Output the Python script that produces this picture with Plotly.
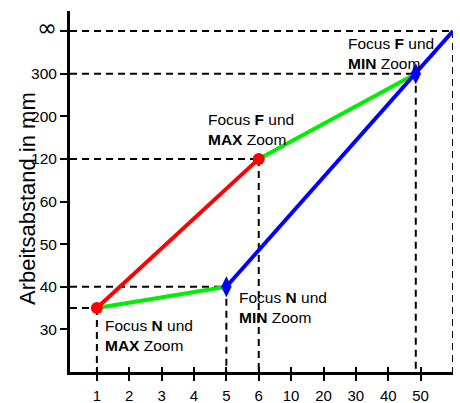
import plotly.graph_objects as go

# Axis categories (placed at equally spaced positions)
x_tick_pos = [1, 2, 3, 4, 5, 6, 7, 8, 9, 10, 11]
x_tick_text = ["1", "2", "3", "4", "5", "6", "10", "20", "30", "40", "50"]
y_tick_pos = [1, 2, 3, 4, 5, 6, 7, 8]
y_tick_text = ["30", "40", "50", "60", "120", "200", "300",
               "<span style='font-family:DejaVu Sans;font-size:24px'>∞</span>"]

# Series (positions on the category scales)
red_x = [1, 6]
red_y = [1.5, 5]
green1_x = [1, 5]
green1_y = [1.5, 2]
green2_x = [6, 10.85]
green2_y = [5, 7]
blue_x = [5, 10.85, 12]
blue_y = [2, 7, 8]

# Marked points that get dashed guide lines
guide_x = [1, 5, 6, 10.85, 12]
guide_y = [1.5, 2, 5, 7, 8]

# Labels
labels = ["Focus <b>F</b> und<br><b>MAX</b> Zoom",
          "Focus <b>F</b> und<br><b>MIN</b> Zoom",
          "Focus <b>N</b> und<br><b>MIN</b> Zoom",
          "Focus <b>N</b> und<br><b>MAX</b> Zoom"]
label_x = [4.37, 8.69, 5.33, 1.19]
label_y = [5.70, 7.47, 1.51, 0.86]

XMIN, XMAX = 0.17, 12.0
YMIN, YMAX = 0.0, 8.47
FONT = "Liberation Sans, Arial, sans-serif"

fig = go.Figure()

# dashed guide lines
gx, gy = [], []
for px, py in zip(guide_x, guide_y):
    gx += [XMIN, px, None, px, px, None]
    gy += [py, py, None, py, YMIN, None]
fig.add_trace(go.Scatter(x=gx, y=gy, mode="lines",
                         line=dict(color="black", width=2, dash="7px,5px"),
                         hoverinfo="skip", showlegend=False, cliponaxis=False))

fig.add_trace(go.Scatter(x=green1_x, y=green1_y, mode="lines",
                         line=dict(color="#00ee00", width=4), showlegend=False))
fig.add_trace(go.Scatter(x=green2_x, y=green2_y, mode="lines",
                         line=dict(color="#00ee00", width=4), showlegend=False))
fig.add_trace(go.Scatter(x=red_x, y=red_y, mode="lines+markers",
                         line=dict(color="#ff0000", width=4),
                         marker=dict(symbol="circle", size=12, color="#ff0000"),
                         showlegend=False))
fig.add_trace(go.Scatter(x=blue_x, y=blue_y, mode="lines",
                         line=dict(color="#0000ff", width=4), showlegend=False,
                         cliponaxis=False))
fig.add_trace(go.Scatter(x=blue_x[:2], y=blue_y[:2], mode="markers",
                         marker=dict(symbol="diamond-tall", size=15, color="#0000ff"),
                         showlegend=False))

# invisible trace on the overlay axis for inner tick halves
fig.add_trace(go.Scatter(x=[XMIN], y=[YMIN], xaxis="x2", mode="markers",
                         marker=dict(opacity=0), showlegend=False, hoverinfo="skip"))

for t, lx, ly in zip(labels, label_x, label_y):
    fig.add_annotation(x=lx, y=ly, text=t, showarrow=False, xanchor="left",
                       yanchor="middle", align="left",
                       font=dict(family=FONT, size=15.5, color="black"))

fig.add_annotation(xref="paper", yref="paper", x=(27 - 70) / 383, y=(372 - 199) / 361,
                   text="Arbeitsabstand in mm", textangle=-90, showarrow=False,
                   xanchor="center", yanchor="middle",
                   font=dict(family=FONT, size=22, color="black"))

fig.update_layout(
    width=460, height=403,
    margin=dict(l=70, r=7, t=11, b=31, autoexpand=False),
    plot_bgcolor="white", paper_bgcolor="white",
    font=dict(family=FONT, size=15, color="black"),
    xaxis=dict(range=[XMIN, XMAX], tickmode="array", tickvals=x_tick_pos,
               ticktext=x_tick_text, showgrid=False, zeroline=False,
               showline=True, linewidth=3, linecolor="black",
               ticks="outside", ticklen=6, tickwidth=2, tickcolor="black",
               ticklabelstandoff=2, automargin=False),
    xaxis2=dict(range=[XMIN, XMAX], overlaying="x", side="bottom",
                tickmode="array", tickvals=x_tick_pos, showticklabels=False,
                showgrid=False, zeroline=False, showline=False,
                ticks="inside", ticklen=5, tickwidth=2, tickcolor="black",
                automargin=False),
    yaxis=dict(range=[YMIN, YMAX], tickmode="array", tickvals=y_tick_pos,
               ticktext=y_tick_text, showgrid=False, zeroline=False,
               showline=True, linewidth=3, linecolor="black",
               ticks="outside", ticklen=7, tickwidth=2, tickcolor="black",
               tickfont=dict(size=15.5), automargin=False),
)

fig.write_html("out.html", config={"displayModeBar": False},
               post_script="document.body.style.margin='0';")
